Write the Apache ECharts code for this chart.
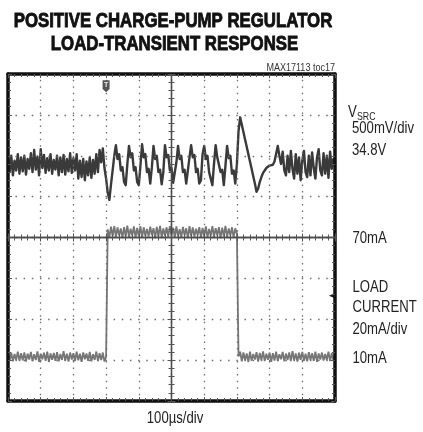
<!DOCTYPE html>
<html>
<head>
<meta charset="utf-8">
<script src="https://cdn.jsdelivr.net/npm/echarts@6/dist/echarts.min.js"></script>
<style>
html,body{margin:0;padding:0;background:#fff;}
#chart{width:423px;height:432px;}
</style>
</head>
<body>
<div id="chart"></div>
<script>
// ---- data ----
const SAMPLE_STEP_US = 5;           // horizontal spacing of the samples (µs)
const TIME_SPAN_US = [0, 1000];     // 10 div x 100 µs
const TRIGGER_US = 300;

// VSRC trace (V), one sample every 5 µs from 0 to 1000 µs
const vsrcV = [
  34.86, 34.70, 34.90, 34.66, 34.84, 34.72, 34.92, 34.68, 34.88, 34.71,
  34.90, 34.67, 34.86, 34.74, 34.93, 34.70, 34.97, 34.73, 34.89, 34.66,
  34.98, 34.75, 34.91, 34.69, 34.87, 34.72, 34.92, 34.68, 34.85, 34.73,
  34.90, 34.66, 34.88, 34.70, 34.91, 34.67, 34.86, 34.71, 34.93, 34.69,
  34.87, 34.72, 34.92, 34.62, 34.84, 34.64, 34.86, 34.60, 34.83, 34.66,
  34.88, 34.63, 34.85, 34.68, 34.92, 34.70, 34.97, 34.82, 34.99, 34.75,
  34.62, 34.45, 34.36, 34.55, 34.72, 34.90, 35.03, 34.86, 34.92, 34.72,
  34.76, 34.58, 34.54, 34.80, 35.02, 34.88, 34.93, 34.72, 34.76, 34.58,
  34.54, 34.78, 35.04, 34.88, 34.92, 34.70, 34.74, 34.56, 34.76, 35.02,
  34.86, 34.90, 34.70, 34.73, 34.55, 34.70, 35.03, 34.88, 34.91, 34.72,
  34.75, 34.57, 34.55, 34.82, 35.02, 34.86, 34.90, 34.70, 34.73, 34.56,
  34.58, 34.88, 35.03, 34.88, 34.91, 34.70, 34.74, 34.56, 34.60, 34.92,
  35.02, 34.86, 34.90, 34.70, 34.72, 34.54, 34.80, 35.03, 34.88, 34.90,
  34.70, 34.73, 34.54, 34.78, 35.02, 34.87, 34.90, 34.68, 34.72, 34.56,
  34.80, 35.20, 35.37, 35.28, 35.19, 35.10, 35.01, 34.92, 34.83, 34.74,
  34.65, 34.56, 34.46, 34.50, 34.58, 34.64, 34.69, 34.72, 34.75, 34.77,
  34.78, 34.80, 34.79, 34.83, 34.84, 35.02, 34.90, 34.80, 34.95, 34.72,
  34.66, 34.90, 34.70, 34.96, 34.74, 34.62, 34.92, 34.68, 34.88, 34.60,
  34.84, 34.96, 34.70, 34.64, 34.90, 34.66, 34.94, 34.75, 34.62, 34.88,
  34.98, 34.72, 34.66, 34.93, 34.68, 34.90, 34.63, 34.95, 34.74, 34.86,
  34.78
];

// LOAD CURRENT trace (mA), same sampling
const loadCurrentMa = [
  11.8, 8.3, 12.2, 7.9, 11.5, 8.6, 12.6, 8.1, 11.9, 8.4,
  12.3, 7.8, 11.7, 8.8, 12.5, 8.0, 11.4, 8.5, 12.8, 7.7,
  11.6, 8.9, 12.1, 8.2, 12.7, 7.6, 11.8, 8.7, 12.0, 8.1,
  12.4, 7.9, 11.5, 8.6, 12.9, 8.3, 11.7, 7.8, 12.2, 8.8,
  11.9, 8.0, 12.6, 8.4, 11.6, 7.7, 12.3, 8.9, 11.8, 8.2,
  12.5, 7.9, 11.4, 8.6, 12.7, 8.1, 11.9, 8.5, 12.2, 7.8,
  10.2, 72.5, 68.6, 73.8, 69.2, 74.1, 68.8, 73.4, 69.5, 72.9,
  68.3, 73.6, 69.0, 74.3, 68.7, 72.8, 69.4, 73.9, 68.5, 73.2,
  69.1, 74.0, 68.4, 73.5, 69.3, 72.7, 68.9, 73.8, 69.6, 73.1,
  68.2, 73.7, 69.0, 74.2, 68.6, 72.9, 69.3, 73.5, 68.8, 74.0,
  69.4, 73.3, 68.5, 73.9, 69.1, 72.6, 68.7, 73.7, 69.5, 73.0,
  68.3, 74.1, 69.2, 73.4, 68.9, 72.8, 69.6, 73.6, 68.4, 73.2,
  69.0, 73.9, 68.6, 72.7, 69.3, 74.0, 68.8, 73.1, 69.5, 73.6,
  68.2, 73.3, 69.1, 74.2, 68.7, 72.9, 69.4, 73.5, 68.5, 73.0,
  70.5, 10.3, 12.6, 7.9, 12.3, 8.4, 11.8, 7.6, 12.7, 8.2,
  11.5, 8.8, 12.4, 7.8, 12.0, 8.5, 12.8, 8.0, 11.6, 8.7,
  12.2, 7.7, 11.9, 8.3, 12.6, 8.1, 11.4, 8.9, 12.5, 7.9,
  11.7, 8.6, 12.3, 8.0, 12.9, 8.4, 11.8, 7.8, 12.1, 8.7,
  12.5, 8.2, 11.6, 7.9, 12.4, 8.5, 11.9, 8.1, 12.7, 7.7,
  11.8, 8.8, 12.2, 8.3, 11.5, 8.6, 12.6, 8.0, 12.0, 8.4,
  11.9
];

// vertical scales (8 div each)
const VSRC_RANGE_V = [31.9, 35.9];        // 500 mV/div
const CURRENT_RANGE_MA = [-11.5, 148.5];  // 20 mA/div
const GROUND_MARK_MA = 40;

// ---- chart ----
const timeUs = vsrcV.map((_, i) => i * SAMPLE_STEP_US);
const vsrcPairs = vsrcV.map((v, i) => [timeUs[i], v]);
const currentPairs = loadCurrentMa.map((v, i) => [timeUs[i], v]);

const chart = echarts.init(document.getElementById('chart'), null, {renderer: 'canvas'});

const frameLine = {show: true, onZero: false, lineStyle: {color: '#111', width: 3.5}};
const dotX = {show: true, lineStyle: {color: '#6e6e6e', width: 1.3, type: [1.5, 5.04], dashOffset: 0.75}};
const dotY = {show: true, lineStyle: {color: '#6e6e6e', width: 1.3, type: [1.5, 6.68], dashOffset: 0.75}};
const tickStyle = {color: '#555', width: 1};

function xAx(extra) {
  return Object.assign({
    type: 'value', min: TIME_SPAN_US[0], max: TIME_SPAN_US[1], interval: 100,
    axisLabel: {show: false}, splitLine: {show: false}, z: 5
  }, extra);
}
function yAx(extra) {
  return Object.assign({
    type: 'value', min: 0, max: 8, interval: 1,
    axisLabel: {show: false}, splitLine: {show: false}, z: 5
  }, extra);
}
const centerLine = {show: true, onZero: false, lineStyle: {color: '#4a4a4a', width: 1.3}};

const labelFont = '"Liberation Sans", Arial, sans-serif';
function label(text, x, y, opts) {
  opts = opts || {};
  const style = {
    text: text, fill: opts.fill || '#222',
    font: (opts.weight || 'normal') + ' ' + (opts.size || 16) + 'px ' + labelFont,
    align: opts.align || 'left', verticalAlign: 'middle'
  };
  if (opts.stroke) { style.stroke = opts.fill || '#222'; style.lineWidth = opts.stroke; }
  return {type: 'text', x: x, y: y, scaleX: opts.scaleX || 0.82, z: 10, style: style};
}

chart.setOption({
  animation: false,
  backgroundColor: '#ffffff',
  grid: {left: 8, top: 74, width: 327, height: 327, containLabel: false},
  xAxis: [
    xAx({position: 'bottom', axisLine: frameLine, axisTick: {show: true, inside: true, length: 4, lineStyle: tickStyle},
         minorTick: {show: true, splitNumber: 5, length: 3, lineStyle: tickStyle}, splitLine: dotX}),
    xAx({position: 'top', axisLine: frameLine, axisTick: {show: true, inside: true, length: 4, lineStyle: tickStyle},
         minorTick: {show: true, splitNumber: 5, length: 3, lineStyle: tickStyle}}),
    xAx({position: 'bottom', offset: -163.5, axisLine: centerLine, axisTick: {show: true, inside: true, length: 4, lineStyle: tickStyle},
         minorTick: {show: true, splitNumber: 5, length: 3, lineStyle: tickStyle}}),
    xAx({position: 'bottom', offset: -163.5, axisLine: centerLine, axisTick: {show: true, inside: false, length: 4, lineStyle: tickStyle},
         minorTick: {show: true, splitNumber: 5, length: 3, lineStyle: tickStyle}})
  ],
  yAxis: [
    yAx({position: 'left', axisLine: frameLine, axisTick: {show: true, inside: true, length: 4, lineStyle: tickStyle},
         minorTick: {show: true, splitNumber: 5, length: 3, lineStyle: tickStyle}, splitLine: dotY}),
    yAx({position: 'right', axisLine: frameLine, axisTick: {show: true, inside: true, length: 4, lineStyle: tickStyle},
         minorTick: {show: true, splitNumber: 5, length: 3, lineStyle: tickStyle}}),
    yAx({position: 'left', offset: -163.5, axisLine: centerLine, axisTick: {show: true, inside: true, length: 4, lineStyle: tickStyle},
         minorTick: {show: true, splitNumber: 5, length: 3, lineStyle: tickStyle}}),
    yAx({position: 'left', offset: -163.5, axisLine: centerLine, axisTick: {show: true, inside: false, length: 4, lineStyle: tickStyle},
         minorTick: {show: true, splitNumber: 5, length: 3, lineStyle: tickStyle}}),
    {type: 'value', show: false, min: VSRC_RANGE_V[0], max: VSRC_RANGE_V[1]},
    {type: 'value', show: false, min: CURRENT_RANGE_MA[0], max: CURRENT_RANGE_MA[1]}
  ],
  series: [
    {
      name: 'LOAD CURRENT', type: 'line', xAxisIndex: 0, yAxisIndex: 5, data: currentPairs,
      symbol: 'none', z: 3, lineStyle: {color: '#767676', width: 1.8},
      markPoint: {
        silent: true, animation: false,
        data: [{coord: [TIME_SPAN_US[1] - 8, GROUND_MARK_MA], symbol: 'triangle', symbolSize: [6, 7], symbolRotate: 90,
                itemStyle: {color: '#222'}, label: {show: false}}]
      }
    },
    {
      name: 'VSRC', type: 'line', xAxisIndex: 0, yAxisIndex: 4, data: vsrcPairs,
      symbol: 'none', z: 4, lineStyle: {color: '#3a3a3a', width: 2.4, join: 'round'},
      markPoint: {
        silent: true, animation: false,
        data: [{coord: [TRIGGER_US, VSRC_RANGE_V[1] - 0.15], symbol: 'path://M0,0 L10,0 L10,11 L5,15 L0,11 Z',
                symbolSize: [7, 12], itemStyle: {color: '#555'},
                label: {show: true, formatter: 'T', color: '#eee', fontSize: 7, fontWeight: 'bold', position: 'inside', offset: [0, -1]}}]
      }
    }
  ],
  graphic: [
    label('POSITIVE CHARGE-PUMP REGULATOR', 173, 21, {weight: 'bold', size: 21, scaleX: 0.8, align: 'center', fill: '#111', stroke: 0.9}),
    label('LOAD-TRANSIENT RESPONSE', 174.5, 44.5, {weight: 'bold', size: 21, scaleX: 0.8, align: 'center', fill: '#111', stroke: 0.9}),
    label('MAX17113 toc17', 335, 68.5, {size: 10.5, scaleX: 0.86, align: 'right', fill: '#333'}),
    label('V', 348, 113, {size: 16}),
    label('SRC', 357, 116.5, {size: 11, scaleX: 0.8}),
    label('500mV/div', 352, 128.5, {size: 16}),
    label('34.8V', 352, 151, {size: 16}),
    label('70mA', 352.5, 239, {size: 16}),
    label('LOAD', 352.5, 287.5, {size: 16}),
    label('CURRENT', 352.5, 307.5, {size: 16}),
    label('20mA/div', 352.5, 329.5, {size: 16}),
    label('10mA', 352.5, 359, {size: 16}),
    label('100µs/div', 175, 419, {size: 16, align: 'center'})
  ]
});
</script>
</body>
</html>
